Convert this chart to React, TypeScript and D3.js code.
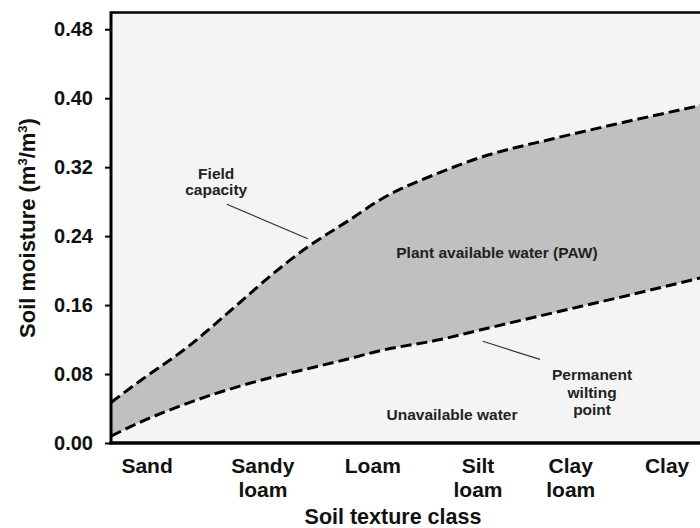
import React, {useEffect, useRef} from 'react';
import * as d3 from 'd3';

// position along the soil texture axis (0 = left edge of plot, 100 = right edge)
const positions = [0, 4.9, 12.9, 21.8, 27.7, 33.2, 40.4, 45.5, 55.7, 62.4, 74.8, 86.1, 100];
// volumetric soil moisture (m3/m3)
const fieldCapacity = [0.047, 0.072, 0.111, 0.163, 0.198, 0.227, 0.259, 0.282, 0.314, 0.331, 0.353, 0.371, 0.392];
const wiltingPoint = [0.008, 0.024, 0.046, 0.066, 0.077, 0.086, 0.098, 0.107, 0.120, 0.131, 0.151, 0.169, 0.192];

const textureClasses = [['Sand'], ['Sandy', 'loam'], ['Loam'], ['Silt', 'loam'], ['Clay', 'loam'], ['Clay']];
const classPositions = [6.1, 25.7, 44.3, 62.1, 77.8, 94.1];
const yTicks = [0, 0.08, 0.16, 0.24, 0.32, 0.40, 0.48];

const FONT = '"Liberation Sans", Arial, Helvetica, sans-serif';

export default function App() {
  const ref = useRef<SVGSVGElement>(null);

  useEffect(() => {
    document.body.style.margin = '0';
    const svg = d3.select(ref.current);
    svg.selectAll('*').remove();

    const marginLeft = 111;
    const plotRight = 702;
    const plotTop = 12;
    const plotBottom = 443;

    const x = d3.scaleLinear().domain([0, 100]).range([marginLeft, plotRight]);
    const y = d3.scaleLinear().domain([0, 0.5]).range([plotBottom, plotTop]);

    const data = positions.map((p, i) => ({p, fc: fieldCapacity[i], pwp: wiltingPoint[i]}));

    svg.append('rect')
        .attr('x', 0).attr('y', 0)
        .attr('width', 700).attr('height', 528)
        .attr('fill', '#ffffff');

    // plot background
    svg.append('rect')
        .attr('x', marginLeft).attr('y', plotTop)
        .attr('width', plotRight - marginLeft)
        .attr('height', plotBottom - plotTop)
        .attr('fill', '#f4f4f4');

    svg.append('defs').append('clipPath')
        .attr('id', 'plotClip')
        .append('rect')
        .attr('x', marginLeft).attr('y', plotTop)
        .attr('width', plotRight - marginLeft)
        .attr('height', plotBottom - plotTop);

    const plot = svg.append('g').attr('clip-path', 'url(#plotClip)');

    // plant available water band
    const area = d3.area<any>()
        .x((d) => x(d.p))
        .y0((d) => y(d.pwp))
        .y1((d) => y(d.fc))
        .curve(d3.curveMonotoneX);
    plot.append('path')
        .datum(data)
        .attr('d', area)
        .attr('fill', '#c0c0c0');

    const lineFc = d3.line<any>().x((d) => x(d.p)).y((d) => y(d.fc)).curve(d3.curveMonotoneX);
    const linePwp = d3.line<any>().x((d) => x(d.p)).y((d) => y(d.pwp)).curve(d3.curveMonotoneX);
    [lineFc, linePwp].forEach((ln) => {
      plot.append('path')
          .datum(data)
          .attr('d', ln)
          .attr('fill', 'none')
          .attr('stroke', '#000')
          .attr('stroke-width', 3)
          .attr('stroke-dasharray', '11,5');
    });

    // pointer lines
    const pointers = [
      [[19.6, 0.277], [33.3, 0.237]],
      [[62.9, 0.118], [72.6, 0.097]],
    ];
    pointers.forEach((pt) => {
      svg.append('line')
          .attr('x1', x(pt[0][0])).attr('y1', y(pt[0][1]))
          .attr('x2', x(pt[1][0])).attr('y2', y(pt[1][1]))
          .attr('stroke', '#333')
          .attr('stroke-width', 1.2);
    });

    // annotations
    const notes: [number, number, string[], number][] = [
      [17.8, 0.306, ['Field', 'capacity'], 16],
      [65.3, 0.215, ['Plant available water (PAW)'], 0],
      [57.7, 0.027, ['Unavailable water'], 0],
      [81.4, 0.073, ['Permanent', 'wilting', 'point'], 17.5],
    ];
    notes.forEach(([px, py, lines, lh]) => {
      const t = svg.append('text')
          .attr('x', x(px)).attr('y', y(py))
          .attr('text-anchor', 'middle')
          .style('font-family', FONT)
          .style('font-weight', 'bold')
          .style('font-size', '15.5px')
          .attr('fill', '#222');
      lines.forEach((s, i) => {
        t.append('tspan').attr('x', x(px)).attr('dy', i === 0 ? 0 : lh).text(s);
      });
    });

    // y axis
    const yAxis = svg.append('g')
        .attr('transform', `translate(${marginLeft},0)`)
        .call(d3.axisLeft(y).tickValues(yTicks)
            .tickFormat(d3.format('.2f')).tickSize(6).tickPadding(12));
    yAxis.select('.domain').remove();
    yAxis.selectAll('line').attr('stroke', '#000').attr('stroke-width', 2);
    yAxis.selectAll('text')
        .style('font-family', FONT)
        .style('font-weight', 'bold')
        .style('font-size', '20px')
        .attr('fill', '#111');

    // frame
    svg.append('line')
        .attr('x1', marginLeft).attr('x2', 700)
        .attr('y1', plotTop + 0.5).attr('y2', plotTop + 0.5)
        .attr('stroke', '#000').attr('stroke-width', 2.5);
    svg.append('line')
        .attr('x1', marginLeft).attr('x2', marginLeft)
        .attr('y1', plotTop - 0.7).attr('y2', plotBottom + 1.5)
        .attr('stroke', '#000').attr('stroke-width', 3);
    svg.append('line')
        .attr('x1', marginLeft - 1.5).attr('x2', 700)
        .attr('y1', plotBottom).attr('y2', plotBottom)
        .attr('stroke', '#000').attr('stroke-width', 3.5);

    // x category labels
    textureClasses.forEach((lines, i) => {
      const t = svg.append('text')
          .attr('x', x(classPositions[i])).attr('y', 473)
          .attr('text-anchor', 'middle')
          .style('font-family', FONT)
          .style('font-weight', 'bold')
          .style('font-size', '21px')
          .attr('fill', '#111');
      lines.forEach((s, j) => {
        t.append('tspan').attr('x', x(classPositions[i])).attr('dy', j === 0 ? 0 : 24).text(s);
      });
    });

    // axis titles
    svg.append('text')
        .attr('x', 393).attr('y', 524)
        .attr('text-anchor', 'middle')
        .style('font-family', FONT)
        .style('font-weight', 'bold')
        .style('font-size', '21.5px')
        .attr('fill', '#111')
        .text('Soil texture class');

    const yt = svg.append('text')
        .attr('transform', 'translate(35,228) rotate(-90)')
        .attr('text-anchor', 'middle')
        .style('font-family', FONT)
        .style('font-weight', 'bold')
        .style('font-size', '22px')
        .attr('fill', '#111');
    yt.append('tspan').text('Soil moisture (m');
    yt.append('tspan').attr('dy', -8).style('font-size', '13px').text('3');
    yt.append('tspan').attr('dy', 8).text('/m');
    yt.append('tspan').attr('dy', -8).style('font-size', '13px').text('3');
    yt.append('tspan').attr('dy', 8).text(')');
  }, []);

  return (
    <svg ref={ref} width={700} height={528}
      style={{position: 'absolute', left: 0, top: 0, display: 'block'}} />
  );
}
